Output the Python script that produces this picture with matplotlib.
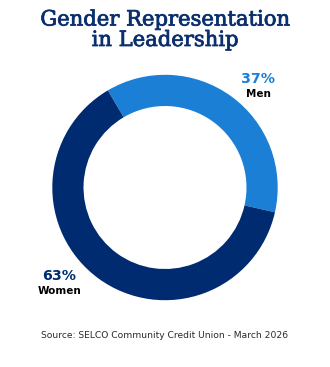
import matplotlib
matplotlib.use("Agg")
import matplotlib.pyplot as plt
import matplotlib.patheffects as pe

categories = ["Men", "Women"]
values = [37, 63]
colors = ["#1b7fd6", "#002b70"]
title_lines = ["Gender Representation", "in Leadership"]
source = "Source: SELCO Community Credit Union - March 2026"

fig = plt.figure(figsize=(3.30, 3.67), dpi=100)
fig.patch.set_facecolor("white")

# Donut axes placed in pixel units of the 330x367 canvas
W, H = 330, 367
cx, cy, r = 165, 187.5, 112.7
ax = fig.add_axes([(cx - r) / W, 1 - (cy + r) / H, 2 * r / W, 2 * r / H])
ax.pie(values, colors=colors, startangle=120.5, counterclock=False,
       radius=1.0, wedgeprops=dict(width=0.277, linewidth=0))
ax.set_xlim(-1, 1)
ax.set_ylim(-1, 1)
ax.set_aspect("equal")
ax.axis("off")

# Two-line title, each line on its own baseline
title_color = "#0b2f6e"
for line, baseline in zip(title_lines, [25.5, 46]):
    fig.text(0.5, 1 - baseline / H, line, ha="center", va="baseline",
             fontsize=15.2, color=title_color, family="DejaVu Serif",
             path_effects=[pe.withStroke(linewidth=0.55,
                                         foreground=title_color)])

# Slice labels
fig.text(258 / W, 1 - 79 / H, f"{values[0]}%", ha="center", va="center",
         fontsize=10.2, fontweight="bold", color=colors[0])
fig.text(258.5 / W, 1 - 94 / H, categories[0], ha="center", va="center",
         fontsize=7.5, fontweight="bold", color="black")
fig.text(59.5 / W, 1 - 276.5 / H, f"{values[1]}%", ha="center", va="center",
         fontsize=10.2, fontweight="bold", color=colors[1])
fig.text(60 / W, 1 - 290.5 / H, categories[1], ha="center", va="center",
         fontsize=7.5, fontweight="bold", color="black")

fig.text(0.5, 1 - 335.5 / H, source, ha="center", va="center",
         fontsize=6.55, color="#2a2a2a")

fig.savefig("out.png", dpi=100, facecolor="white")
